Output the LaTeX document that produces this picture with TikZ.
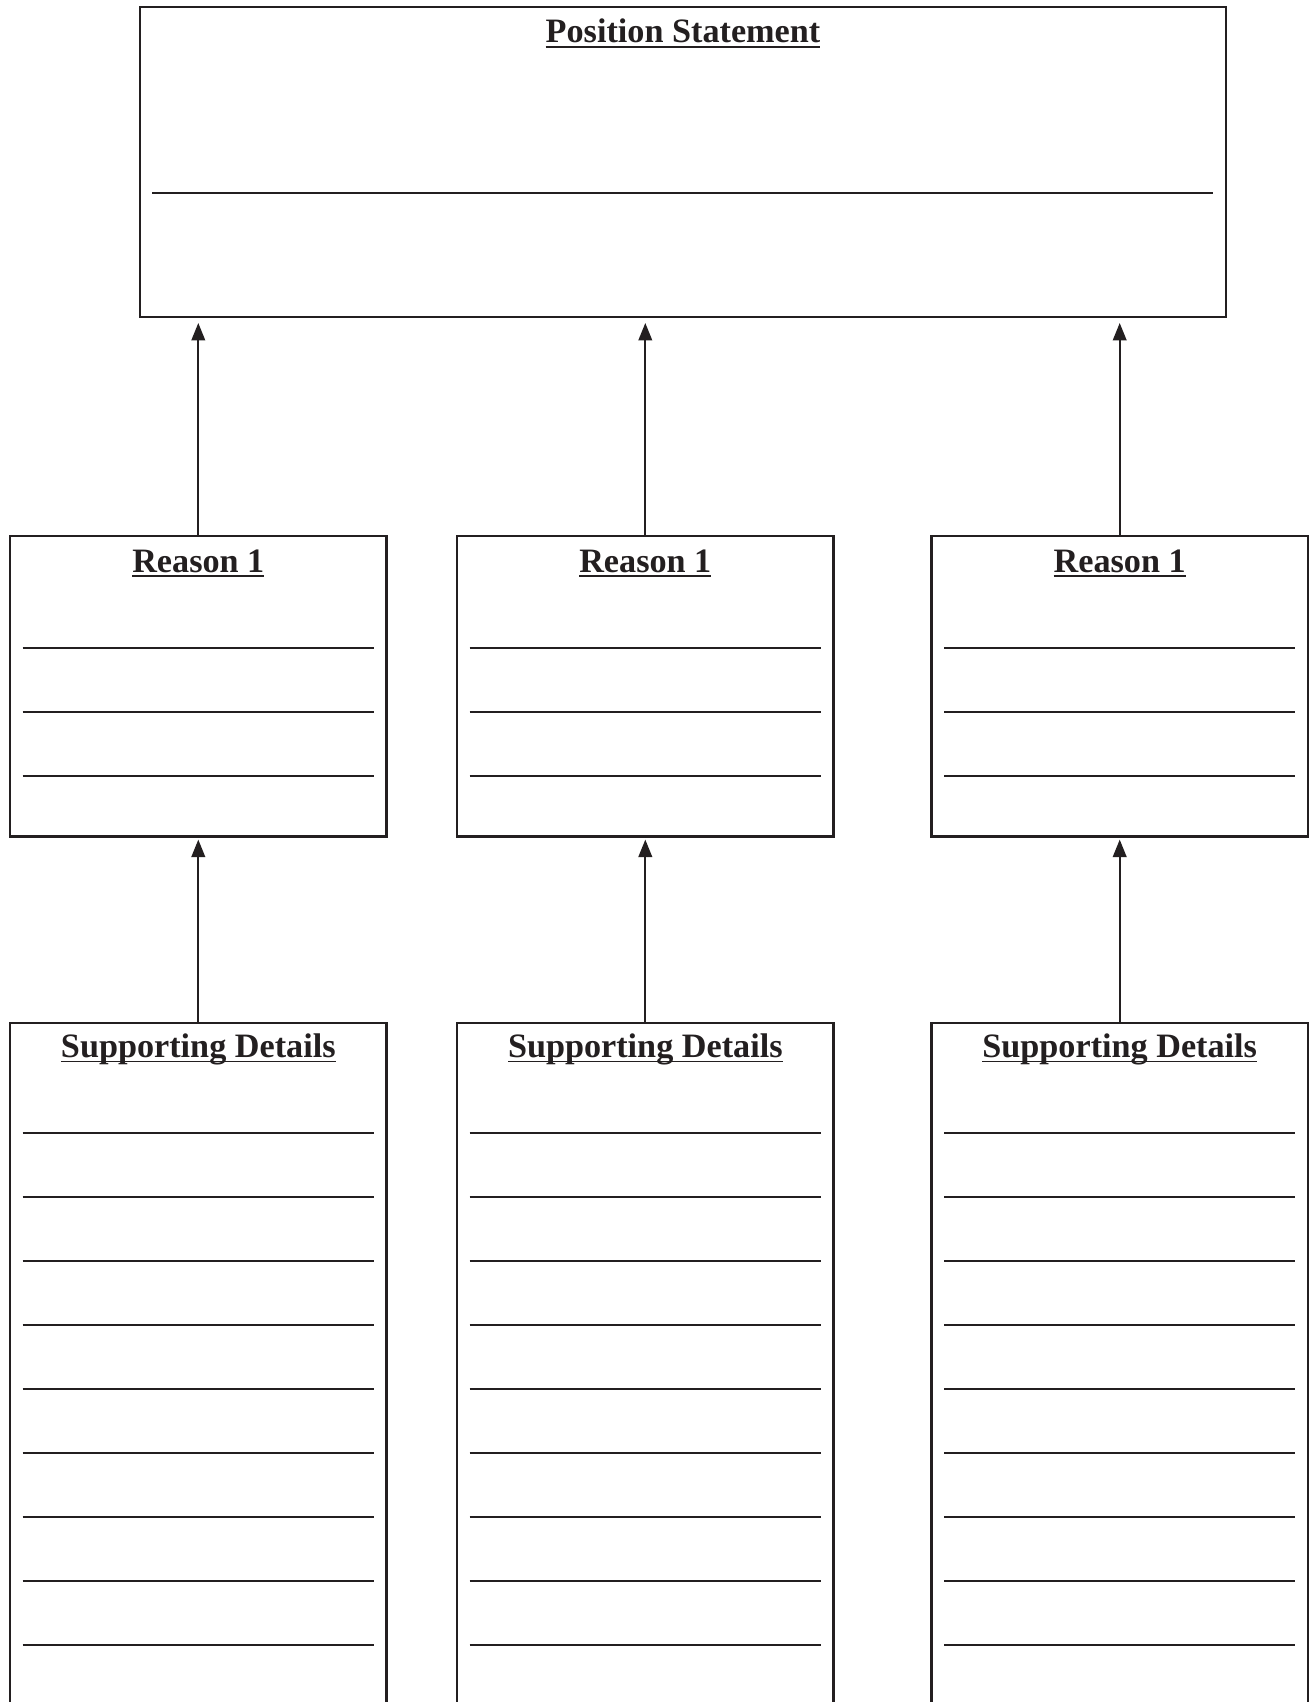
\documentclass[tikz,border=0pt]{standalone}
\usepackage{fontspec}
\setmainfont{Liberation Serif}
\usetikzlibrary{arrows.meta}
\definecolor{ink}{HTML}{231F20}
\newcommand\myul[1]{\setbox0\hbox{#1}\rlap{\rule[-4.8pt]{\wd0}{1.7pt}}\box0}
\tikzset{
  frame/.style={draw=ink, line width=2.5pt, rectangle, inner sep=0pt, fill=none},
  title/.style={anchor=base, inner sep=0pt, text=ink, font=\fontsize{34.2}{40}\selectfont\bfseries},
  rule/.style={draw=ink, line width=1.7pt},
  link/.style={draw=ink, line width=2.3pt, -{Triangle[width=13.5pt,length=17.5pt]}}
}
\begin{document}
\begin{tikzpicture}[x=1pt, y=-1pt]
\useasboundingbox (0,0) rectangle (1312,1702);
\begin{scope}
\clip (0,0) rectangle (1312,1702);
% top box
\node[frame, minimum width=1086pt, minimum height=310pt] (top) at (683,162) {};
\node[title] (toptitle) at (683,43) {\color{ink}\myul{Position Statement}};
\coordinate (tl) at (152,192.7);
\coordinate (tr) at (1213,192.7);
\draw[rule] (tl) -- (tr);
% columns
\foreach \i/\cx in {1/198.3, 2/645.3, 3/1119.7} {
  \node[frame, minimum width=376.5pt, minimum height=300.7pt] (r\i) at (\cx,686.35) {};
  \node[title] (rt\i) at (\cx,572.3) {\color{ink}\myul{Reason 1}};
  \foreach \y in {647.7, 711.7, 775.7} {
    \coordinate (ra) at (\cx-175.6,\y);
    \coordinate (rb) at (\cx+175.6,\y);
    \draw[rule] (ra) -- (rb);
  }
  \node[frame, minimum width=376.5pt, minimum height=720pt, anchor=north] (s\i) at (\cx,1021.7) {};
  \node[title] (st\i) at (\cx,1057.5) {\color{ink}\myul{Supporting Details}};
  \foreach \k in {0,...,8} {
    \coordinate (sa) at (\cx-175.6,1133+64*\k);
    \coordinate (sb) at (\cx+175.6,1133+64*\k);
    \draw[rule] (sa) -- (sb);
  }
  \draw[link, shorten >=4.7pt] (r\i.north) -- (r\i.north |- top.south);
  \draw[link, shorten >=1.6pt] (s\i.north) -- (r\i.south);
}
\end{scope}
\end{tikzpicture}
\end{document}
